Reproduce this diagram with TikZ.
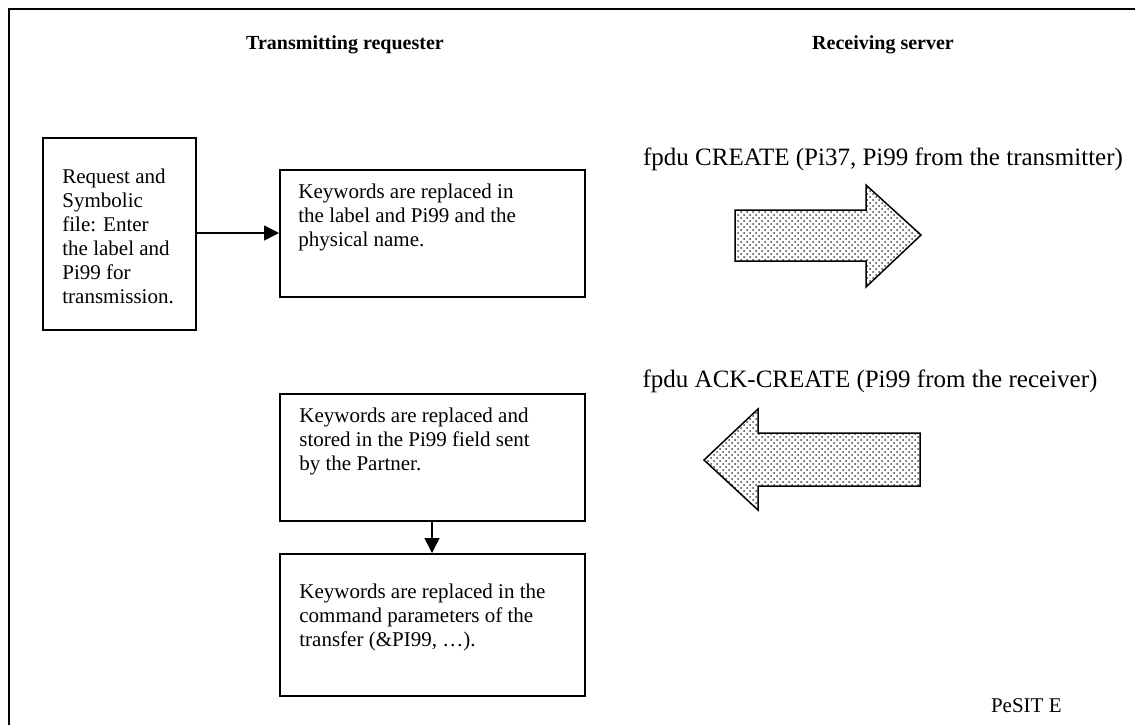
\documentclass[tikz,border=0pt]{standalone}
\usepackage{fontspec}
\setmainfont{Liberation Serif}
\usetikzlibrary{arrows.meta,patterns}
\begin{document}
\begin{tikzpicture}[x=0.5pt,y=-0.5pt,
  every node/.style={font=\fontsize{10.5pt}{12pt}\selectfont, inner sep=0pt},
  box/.style={draw, line width=0.75pt, rectangle, anchor=north west},
  txt/.style={anchor=base west, align=left},
  title/.style={anchor=base, font=\fontsize{10pt}{12pt}\selectfont\bfseries},
  lbl/.style={anchor=base, font=\fontsize{12.5pt}{14pt}\selectfont},
  conn/.style={line width=0.75pt, -{Triangle[length=7.5pt,width=7.5pt]}},
  bigarrow/.style={draw, line width=0.75pt, line join=miter, pattern=crosshatch dots, pattern color=black!75}]
\useasboundingbox (0,0) rectangle (1135,725);
% frame
\draw[line width=1pt] (9,725) -- (9,9) -- (1135,9);
% titles
\node[title] (t1) at (345,49) {Transmitting requester};
\node[title] (t2) at (883,49) {Receiving server};
% boxes
\node[box, minimum width=76.5pt, minimum height=96pt] (b1) at (42,137) {};
\node[box, minimum width=152.5pt, minimum height=63.5pt] (b2) at (279,169) {};
\node[box, minimum width=152.5pt, minimum height=63.5pt] (b3) at (279,393) {};
\node[box, minimum width=152.5pt, minimum height=71pt] (b4) at (279,553) {};
% box texts (base anchor = baseline of the last line)
\node[txt] (x1) at (62,303) {Request and\\Symbolic\\file: Enter\\the label and\\Pi99 for\\transmission.};
\node[txt] (x2) at (298,246) {Keywords are replaced in\\the label and Pi99 and the\\physical name.};
\node[txt] (x3) at (299,470) {Keywords are replaced and\\stored in the Pi99 field sent\\by the Partner.};
\node[txt] (x4) at (299,646) {Keywords are replaced in the\\command parameters of the\\transfer (\&PI99, …).};
% connectors
\coordinate (c1) at (b1.east |- 0,233);
\coordinate (c2) at (b2.west |- 0,233);
\draw[conn] (c1) -- (c2);
\coordinate (c3) at (b3.south -| 432,0);
\coordinate (c4) at (b4.north -| 432,0);
\draw[conn] (c3) -- (c4);
% big arrows
\draw[bigarrow] (735,210) -- (866,210) -- (866,185) -- (921,235) -- (866,287) -- (866,261) -- (735,261) -- cycle;
\draw[bigarrow] (920,433) -- (758,433) -- (758,409) -- (704,460) -- (758,510) -- (758,486) -- (920,486) -- cycle;
% labels
\node[lbl] (l1) at (883,165) {fpdu CREATE (Pi37, Pi99 from the transmitter)};
\node[lbl] (l2) at (870,387) {fpdu ACK-CREATE (Pi99 from the receiver)};
\node[anchor=base east] (l3) at (1062,712) {PeSIT E};
\end{tikzpicture}
\end{document}
